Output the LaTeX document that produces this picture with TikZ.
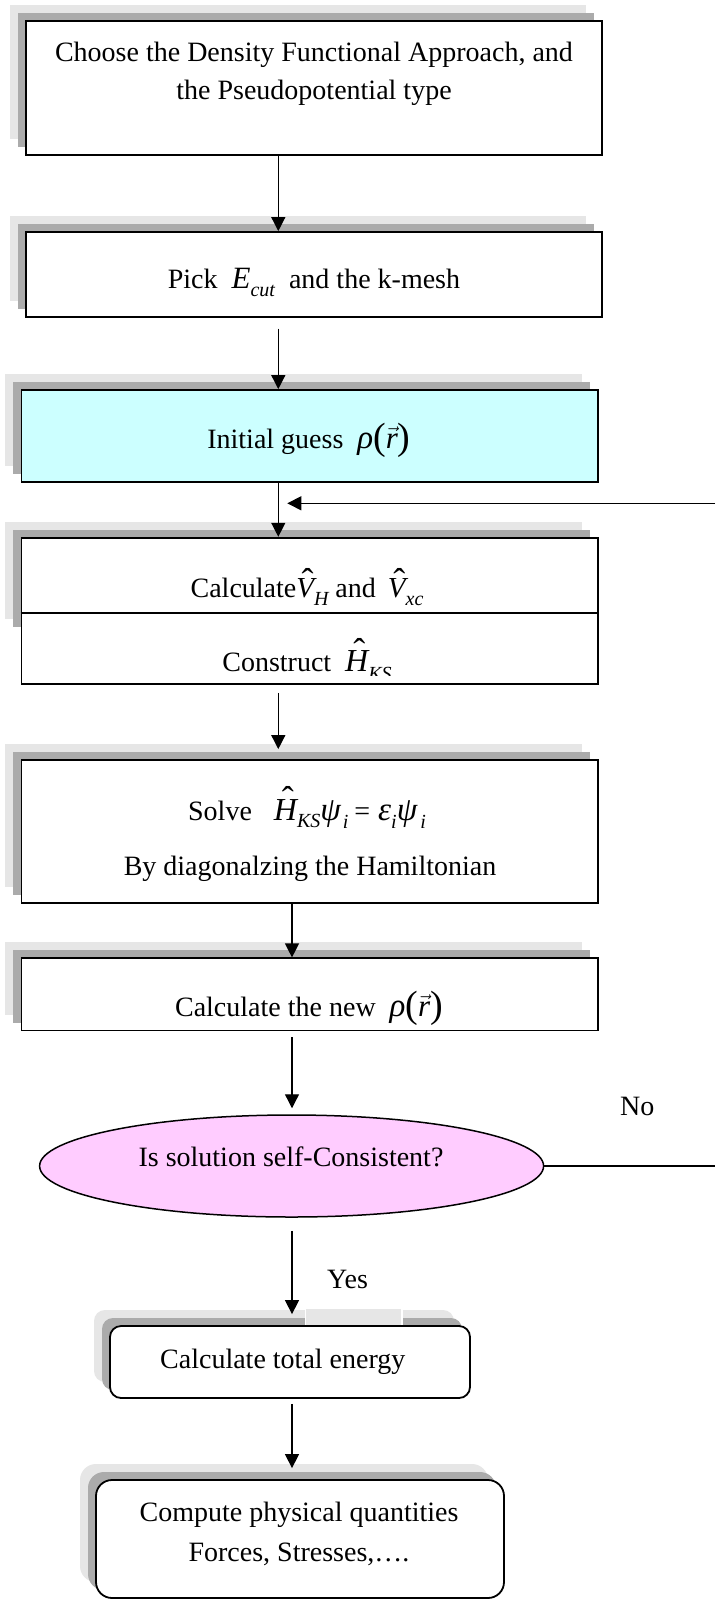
\documentclass[tikz,border=0pt]{standalone}
\usepackage{fontspec}
\setmainfont{Liberation Serif}
\usetikzlibrary{arrows.meta,shapes.geometric}
\definecolor{cyanbox}{HTML}{CCFFFF}
\definecolor{pinkbox}{HTML}{FFCCFF}
\definecolor{shdark}{HTML}{ABABAB}
\definecolor{shlight}{HTML}{E6E6E6}
\newcommand\tf{\fontsize{28}{34}\selectfont}
\newcommand\mv[1]{{\fontsize{31}{31}\selectfont\itshape #1}}
\newcommand\gk[1]{{\fontsize{33}{33}\selectfont\itshape #1}}
\newcommand\sbs[2][8pt]{\raisebox{-#1}{\fontsize{20}{20}\selectfont\itshape #2}}
% hatted italic letter: #1 size, #2 raise of the hat, #3 letter
\newcommand\hv[3]{\ooalign{{\fontsize{#1}{#1}\selectfont\itshape #3}\cr
  \hfil\hspace{5pt}\raisebox{#2}{\fontsize{36}{36}\selectfont ˆ}\hfil\cr}}
\newcommand\vr{$\vec{\mbox{\mv{r}}}$}
\newcommand\pl[1]{{\fontsize{38}{38}\selectfont\raisebox{-1pt}{#1}}}
\newcommand\shd[3][0pt]{%
  \fill[shlight, rounded corners=#1, shift={(-16,-16)}] #2 rectangle #3;
  \fill[shdark, rounded corners=#1, shift={(-8,-8)}] #2 rectangle #3;}
\tikzset{
  box/.style={draw=black, line width=1.8pt, fill=white, rectangle, inner sep=0pt},
  conn/.style={line width=1.3pt, -{Triangle[length=14pt,width=14pt]}},
  plain/.style={line width=1.3pt},
  txt/.style={anchor=base, inner sep=0pt, font=\tf},
}
\begin{document}
\begin{tikzpicture}[x=1pt,y=-1pt]
\useasboundingbox (0,0) rectangle (715,1600);
\fill[white] (0,0) rectangle (715,1600);
% shadows
\shd{(26,20.7)}{(602,155)}
\shd{(26,232)}{(602,316.7)}
\shd{(21.4,390)}{(598,481.7)}
\shd{(21.4,537.7)}{(598,634.7)}
\shd{(21.4,760)}{(598,903)}
\shd{(21.4,958.3)}{(598,1030.5)}
\shd[11pt]{(110,1326)}{(470,1398)}
\fill[shlight] (306,1309) rectangle (401,1326);
\fill[white] (304.5,1309) rectangle (306,1326);
\fill[white] (401,1309) rectangle (402.5,1326);
\shd[16pt]{(96,1480)}{(504,1598)}
% boxes
\node[box, minimum width=576pt, minimum height=134.3pt] (b1) at (314,87.85) {};
\node[box, minimum width=576pt, minimum height=84.7pt] (b2) at (314,274.35) {};
\node[box, fill=cyanbox, minimum width=576.6pt, minimum height=91.7pt] (b3) at (309.7,435.85) {};
\node[box, minimum width=576.6pt, minimum height=146.3pt] (b4) at (309.7,610.85) {};
\node[box, minimum width=576.6pt, minimum height=143pt] (b5) at (309.7,831.5) {};
\node[box, minimum width=576.6pt, minimum height=72.2pt] (b6) at (309.7,994.4) {};
\node[ellipse, draw=black, line width=1.5pt, fill=pinkbox, inner sep=0pt,
      minimum width=504pt, minimum height=102pt] (ell) at (291.6,1166) {};
\node[box, rounded corners=11pt, minimum width=360pt, minimum height=72pt] (b7) at (290,1362) {};
\node[box, rounded corners=16pt, minimum width=408pt, minimum height=118pt] (b8) at (300,1539) {};
\coordinate (div) at (0,612.7);
\draw[line width=1.8pt] (b4.west |- div) -- (b4.east |- div);
% texts
\node[txt] (t1a) at (314,61.7) {Choose the Density Functional Approach, and};
\node[txt] (t1b) at (314,99.3) {the Pseudopotential type};
\node[txt] (t2) at (314,288.3) {Pick\hspace{14pt}\mv{E}\sbs{cut}\hspace{14pt}and the k-mesh};
\node[txt] (t3) at (309,448.3) {Initial guess\hspace{14pt}\gk{ρ}\pl{(}\vr\pl{)}};
\node[txt] (t4a) at (307,597) {Calculate\hv{29}{4pt}{V}\sbs{H} and\hspace{12pt}\hv{29}{4pt}{V}\sbs{xc}};
\begin{scope}
\clip (22.3,538.6) rectangle (597.1,675);
\node[txt] (t4b) at (307,671.7) {Construct\hspace{14pt}\hv{32}{8.4pt}{H}\sbs[9pt]{KS}};
\end{scope}
\node[txt] (t5a) at (307,820) {Solve\hspace{22pt}\hv{32}{8.4pt}{H}\sbs[7pt]{KS}\gk{ψ}\hspace{2pt}\sbs{i}\hspace{6pt}=\hspace{8pt}\gk{ε}\sbs{i}\gk{ψ}\hspace{3pt}\sbs{i}};
\node[txt] (t5b) at (310,875) {By diagonalzing the Hamiltonian};
\node[txt] (t6) at (309,1016.7) {Calculate the new\hspace{14pt}\gk{ρ}\pl{(}\vr\pl{)}};
\node[txt] (t7) at (291,1166.7) {Is solution self-Consistent?};
\node[txt, anchor=base west] (no) at (620,1115) {No};
\node[txt, anchor=base west] (yes) at (327,1288) {Yes};
\node[txt, anchor=base west] (t8) at (160,1368) {Calculate total energy};
\node[txt] (t9a) at (299,1521.7) {Compute physical quantities};
\node[txt] (t9b) at (299,1561.7) {Forces, Stresses,….};
% connectors
\coordinate (ax1) at (278.3,0);
\coordinate (ax2) at (292,0);
\coordinate (fb) at (715,503.3);
\coordinate (rim) at (715,0);
\draw[conn] (b1.south -| ax1) -- (b2.north -| ax1);
\draw[conn, shorten <=11pt] (b2.south -| ax1) -- (b3.north -| ax1);
\draw[conn] (b3.south -| ax1) -- (b4.north -| ax1);
\draw[conn, shorten <=8pt, shorten >=10pt] (b4.south -| ax1) -- (b5.north -| ax1);
\draw[conn] (b5.south -| ax2) -- (b6.north -| ax2);
\draw[conn, shorten <=6pt, shorten >=6pt] (b6.south -| ax2) -- (ell.north -| ax2);
\draw[conn, shorten <=13pt, shorten >=11pt] (ell.south -| ax2) -- (b7.north -| ax2);
\draw[conn, shorten <=5pt, shorten >=11pt] (b7.south -| ax2) -- (b8.north -| ax2);
\draw[conn, shorten >=9pt] (fb) -- (fb -| ax1);
\draw[plain] (ell.east) -- (ell.east -| rim);
\end{tikzpicture}
\end{document}
